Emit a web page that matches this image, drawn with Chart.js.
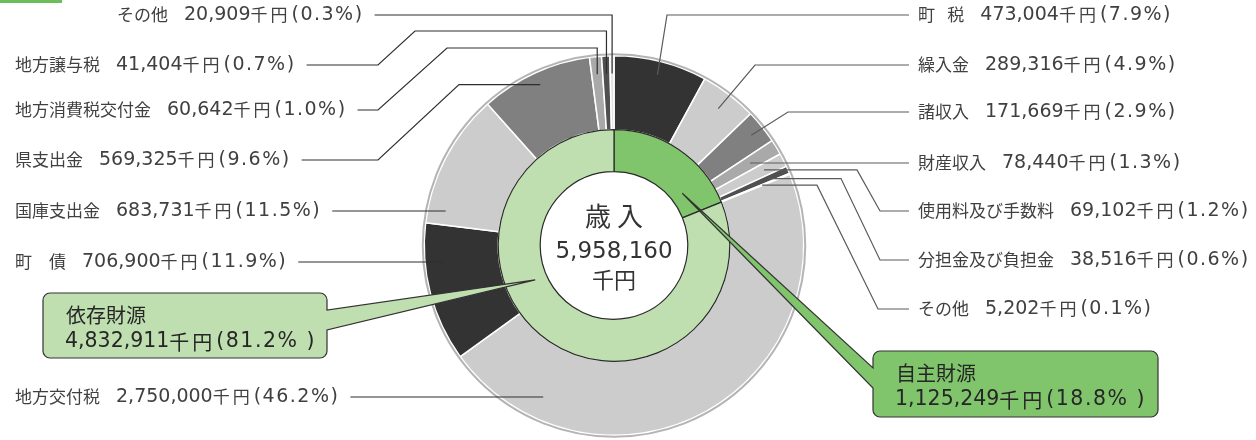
<!DOCTYPE html>
<html lang="ja">
<head>
<meta charset="utf-8">
<title>歳入の内訳</title>
<style>
  html, body { margin: 0; padding: 0; background: #fff; }
  #wrap { position: relative; width: 1256px; height: 440px; overflow: hidden; }
  #tab  { position: absolute; left: 0; top: 0; width: 62px; height: 3px; background: #6abf5a; }
  canvas { display: block; }
</style>
</head>
<body>
<div id="wrap">
  <canvas id="chart" width="1256" height="440"></canvas>
  <div id="tab"></div>
</div>
<script src="https://cdn.jsdelivr.net/npm/chart.js@4/dist/chart.umd.min.js"></script>
<script>
// ===== データ（単位：千円） =====
const SELF_LABELS = ['町\u2002 税', '繰入金', '諸収入', '財産収入', '使用料及び手数料', '分担金及び負担金', 'その他'];
const SELF_VALUES = [473004, 289316, 171669, 78440, 69102, 38516, 5202];
const SELF_PCTS   = ['7.9', '4.9', '2.9', '1.3', '1.2', '0.6', '0.1'];

const DEP_LABELS = ['地方交付税', '町　債', '国庫支出金', '県支出金', '地方消費税交付金', '地方譲与税', 'その他'];
const DEP_VALUES = [2750000, 706900, 683731, 569325, 60642, 41404, 20909];
const DEP_PCTS   = ['46.2', '11.9', '11.5', '9.6', '1.0', '0.7', '0.3'];

const GROUP_LABELS = ['自主財源', '依存財源'];
const GROUP_VALUES = [1125249, 4832911];
const GROUP_PCTS   = ['18.8', '81.2'];

const CENTER_TITLE = '歳 入';
const TOTAL_VALUE  = 5958160;

// ===== 見た目 =====
const SELF_COLORS  = ['#333333', '#cccccc', '#808080', '#a9a9a9', '#cccccc', '#505050', '#d8d8d8'];
const DEP_COLORS   = ['#cccccc', '#333333', '#cccccc', '#808080', '#a9a9a9', '#505050', '#e2e2e2'];
const GROUP_COLORS = ['#80c56c', '#c0dfb0'];

const JP_FONT    = '17px "Noto Sans CJK JP", sans-serif';
const NUM_FONT   = '19px "DejaVu Sans", "Noto Sans CJK JP", sans-serif';
const BOX_JP     = '20px "Noto Sans CJK JP", sans-serif';
const BOX_NUM    = '20.5px "DejaVu Sans", "Noto Sans CJK JP", sans-serif';
const TEXT_COLOR = '#404040';

// 引出線：i = 外側リングの番号、y = ラベル行、via = 折れ点（'t' は引出先の座標）
const LEADERS = [
  { i: 0,  side: 'R', y: 15,  r: 176, via: [[667, 15]] },
  { i: 1,  side: 'R', y: 65,  via: [[755, 65]] },
  { i: 2,  side: 'R', y: 112, r: 176, via: [[788, 112]] },
  { i: 3,  side: 'R', y: 163, r: 159, flat: true },
  { i: 4,  side: 'R', y: 211, r: 168, via: [[880, 211], [857, 't']] },
  { i: 5,  side: 'R', y: 260, r: 168, via: [[880, 260], [841, 't']] },
  { i: 6,  side: 'R', y: 309, r: 160, via: [[878, 309], [817, 't']] },
  { i: 7,  side: 'L', y: 397, x: 15,  at: 0.825, r: 167, flat: true },
  { i: 8,  side: 'L', y: 262, x: 15,  at: 0.71, flat: true },
  { i: 9,  side: 'L', y: 211, x: 15,  at: 0.12, flat: true },
  { i: 10, side: 'L', y: 160, x: 15,  r: 177, via: [[378, 160], [459, 't']] },
  { i: 11, side: 'L', y: 110, x: 15,  via: [[378, 110], [447, 48], ['t', 48]] },
  { i: 12, side: 'L', y: 65,  x: 15,  via: [[378, 65], [415, 31], ['t', 31]] },
  { i: 13, side: 'L', y: 15,  x: 117, via: [['t', 15]] },
];

// 吹き出し：box = [x, y, w, h]、base = 付け根の y
const CALLOUTS = [
  { i: 1, box: [43, 293, 284, 65],  base: [310, 330], side: 'R', at: 0.611, r: 86 },
  { i: 0, box: [873, 351, 285, 66], base: [368, 388], side: 'L', at: 0.773, r: 86 },
];

// ===== ユーティリティ =====
const fmt = v => v.toLocaleString('en-US');

function pointOn(arc, f, r) {
  const a = arc.startAngle + (arc.endAngle - arc.startAngle) * f;
  return { x: arc.x + r * Math.cos(a), y: arc.y + r * Math.sin(a) };
}

// 和文と数字でフォントを分けて描く（戻り値は描いた幅）
function drawRich(ctx, segs, x, y) {
  let cx = x;
  segs.forEach(s => {
    if (s.gap) { cx += s.gap; return; }
    ctx.font = s.f;
    ctx.letterSpacing = (s.ls || 0) + 'px';
    ctx.fillText(s.t, cx, y);
    cx += ctx.measureText(s.t).width;
  });
  ctx.letterSpacing = '0px';
  return cx - x;
}

function moneySegs(value, pct, jp, num) {
  return [
    { t: fmt(value), f: num },
    { t: '千円', f: jp, ls: 3 },
    { gap: 1 },
    { t: `(${pct}%)`, f: num, ls: 1.5 },
  ];
}

function calloutPath(ctx, c, tip) {
  const [x, y, w, h] = c.box;
  const rad = 7;
  const [b0, b1] = c.base;
  ctx.beginPath();
  ctx.moveTo(x + rad, y);
  ctx.lineTo(x + w - rad, y);
  ctx.arcTo(x + w, y, x + w, y + rad, rad);
  if (c.side === 'R') {
    ctx.lineTo(x + w, b0);
    ctx.lineTo(tip.x, tip.y);
    ctx.lineTo(x + w, b1);
  }
  ctx.lineTo(x + w, y + h - rad);
  ctx.arcTo(x + w, y + h, x + w - rad, y + h, rad);
  ctx.lineTo(x + rad, y + h);
  ctx.arcTo(x, y + h, x, y + h - rad, rad);
  if (c.side === 'L') {
    ctx.lineTo(x, b1);
    ctx.lineTo(tip.x, tip.y);
    ctx.lineTo(x, b0);
  }
  ctx.lineTo(x, y + rad);
  ctx.arcTo(x, y, x + rad, y, rad);
  ctx.closePath();
}

// ===== 注記プラグイン =====
const annotate = {
  id: 'annotate',
  afterDraw(chart) {
    const ctx   = chart.ctx;
    const outer = chart.getDatasetMeta(0).data;
    const inner = chart.getDatasetMeta(1).data;
    const o0    = outer[0];
    const names = SELF_LABELS.concat(DEP_LABELS);
    const vals  = SELF_VALUES.concat(DEP_VALUES);
    const pcts  = SELF_PCTS.concat(DEP_PCTS);

    ctx.save();

    // 外周の縁取り
    ctx.beginPath();
    ctx.arc(o0.x, o0.y, o0.outerRadius + 1.5, 0, Math.PI * 2);
    ctx.strokeStyle = '#b4b4b4';
    ctx.lineWidth = 2;
    ctx.stroke();

    // 引出線とラベル
    ctx.textBaseline = 'middle';
    ctx.textAlign = 'left';
    LEADERS.forEach(ld => {
      const arc  = outer[ld.i];
      const t    = pointOn(arc, ld.at ?? 0.5, ld.r ?? 172);
      const segs = [{ t: names[ld.i], f: JP_FONT }, { gap: 16 }]
        .concat(moneySegs(vals[ld.i], pcts[ld.i], JP_FONT, NUM_FONT));
      ctx.fillStyle = TEXT_COLOR;
      let start;
      if (ld.side === 'L') {
        const w = drawRich(ctx, segs, ld.x, ld.y);
        start = [ld.x + w + 11, ld.y];
      } else {
        drawRich(ctx, segs, 918, ld.y);
        start = [909, ld.y];
      }
      const pts = [start];
      (ld.via || []).forEach(([px, py]) => {
        pts.push([px === 't' ? t.x : px, py === 't' ? t.y : py]);
      });
      pts.push(ld.flat ? [t.x, ld.y] : [t.x, t.y]);

      ctx.beginPath();
      ctx.moveTo(pts[0][0], pts[0][1]);
      pts.slice(1).forEach(p => ctx.lineTo(p[0], p[1]));
      ctx.strokeStyle = ld.side === 'L' ? '#2e2e2e' : '#5a5a5a';
      ctx.lineWidth = 1.2;
      ctx.stroke();
    });

    // 吹き出し
    CALLOUTS.forEach(c => {
      const tip = pointOn(inner[c.i], c.at, c.r);
      calloutPath(ctx, c, tip);
      ctx.fillStyle = GROUP_COLORS[c.i];
      ctx.fill();
      ctx.strokeStyle = '#333';
      ctx.lineWidth = 1.2;
      ctx.stroke();

      const [x, y] = c.box;
      ctx.fillStyle = '#262626';
      ctx.font = BOX_JP;
      ctx.fillText(GROUP_LABELS[c.i], x + 23, y + 22);
      const segs = moneySegs(GROUP_VALUES[c.i], GROUP_PCTS[c.i], BOX_JP, BOX_NUM);
      segs[3].t = `(${GROUP_PCTS[c.i]}% )`;
      drawRich(ctx, segs, x + 22, y + 49);
    });

    // 中央の合計
    ctx.fillStyle = '#333';
    ctx.textAlign = 'center';
    ctx.font = '26px "Noto Sans CJK JP", sans-serif';
    ctx.fillText(CENTER_TITLE, o0.x, o0.y - 29);
    ctx.font = '23px "DejaVu Sans", "Noto Sans CJK JP", sans-serif';
    ctx.fillText(fmt(TOTAL_VALUE), o0.x, o0.y + 7);
    ctx.font = '22px "Noto Sans CJK JP", sans-serif';
    ctx.fillText('千円', o0.x, o0.y + 34);

    ctx.restore();
  }
};

// ===== グラフ =====
new Chart(document.getElementById('chart').getContext('2d'), {
  type: 'doughnut',
  data: {
    labels: SELF_LABELS.concat(DEP_LABELS),
    datasets: [
      {
        data:            SELF_VALUES.concat(DEP_VALUES),
        backgroundColor: SELF_COLORS.concat(DEP_COLORS),
        borderColor:     '#ffffff',
        borderWidth:     1.5,
        weight:          74,
        order:           1,
      },
      {
        data:            GROUP_VALUES,
        backgroundColor: GROUP_COLORS,
        borderColor:     '#2a2a2a',
        borderWidth:     1.2,
        weight:          42,
        order:           0,
      },
    ],
  },
  options: {
    responsive: false,
    devicePixelRatio: 1,
    animation: false,
    events: [],
    cutout: '38.9%',
    hoverOffset: 0,
    layout: { padding: { left: 0, right: 28, top: 55, bottom: 4 } },
    plugins: {
      legend:  { display: false },
      tooltip: { enabled: false },
    },
  },
  plugins: [annotate],
});
</script>
</body>
</html>
